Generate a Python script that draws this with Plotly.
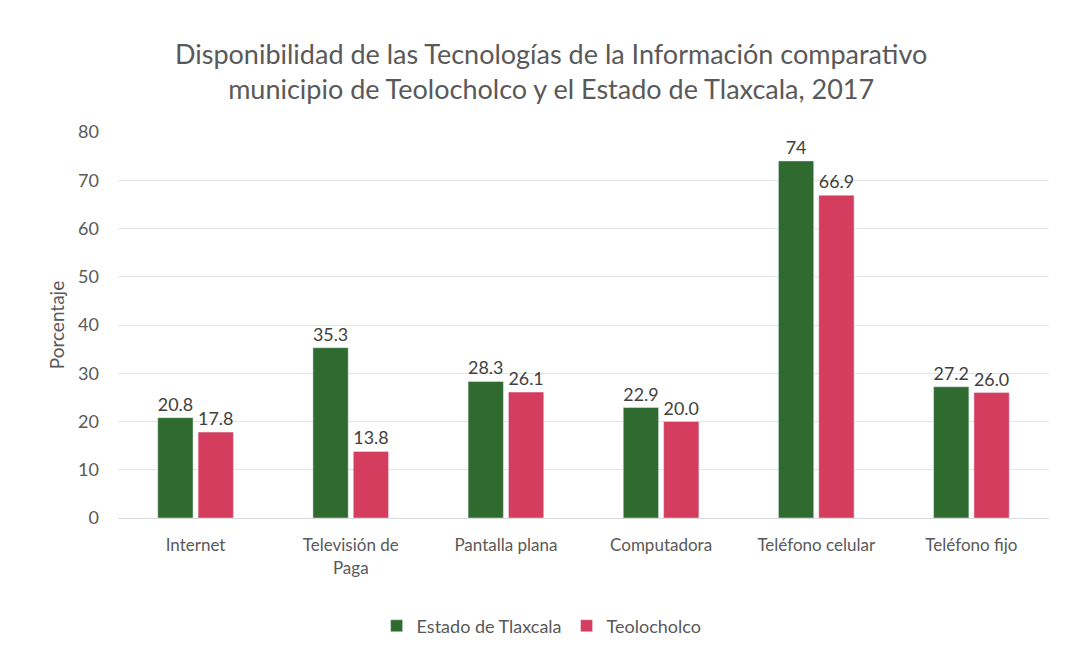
import plotly.graph_objects as go

# ── Data ──────────────────────────────────────────────────────────────────────
categories = ["Internet", "Televisión de<br>Paga", "Pantalla plana",
              "Computadora", "Teléfono celular", "Teléfono fijo"]
estado = [20.8, 35.3, 28.3, 22.9, 74, 27.2]
estado_labels = ["20.8", "35.3", "28.3", "22.9", "74", "27.2"]
teolocholco = [17.8, 13.8, 26.1, 20.0, 66.9, 26.0]
teolocholco_labels = ["17.8", "13.8", "26.1", "20.0", "66.9", "26.0"]

GREEN = "#2f6b2f"
RED = "#d43d5e"
TEXT = "#595959"
FONT = "Lato, 'Open Sans', sans-serif"

fig = go.Figure()
fig.add_trace(go.Bar(
    x=categories, y=estado, name="Estado de Tlaxcala",
    marker_color=GREEN, text=estado_labels, textposition="outside",
    textfont=dict(size=18, color="#404040"), cliponaxis=False,
))
fig.add_trace(go.Bar(
    x=categories, y=teolocholco, name="Teolocholco",
    marker_color=RED, text=teolocholco_labels, textposition="outside",
    textfont=dict(size=18, color="#404040"), cliponaxis=False,
))

fig.update_layout(
    width=1065, height=656,
    paper_bgcolor="white", plot_bgcolor="white",
    font=dict(family=FONT, color=TEXT, size=17),
    title=dict(
        text="Disponibilidad de las Tecnologías de la Información comparativo<br>"
             "municipio de Teolocholco y el Estado de Tlaxcala, 2017",
        x=0.51, xanchor="center", y=0.915, yanchor="middle",
        font=dict(size=27, color=TEXT, family=FONT),
    ),
    margin=dict(l=110, r=24, t=124, b=146),
    barmode="group", bargap=0.48, bargroupgap=0.125,
    showlegend=True,
    legend=dict(
        orientation="h", x=0.455, xanchor="center", y=-0.28, yanchor="middle",
        font=dict(size=18, color=TEXT), itemwidth=30, traceorder="normal",
    ),
)
fig.update_yaxes(
    range=[0, 80], dtick=10, showgrid=True, gridcolor="#e4e4e4", gridwidth=1,
    zeroline=False, showline=False, ticks="", tickfont=dict(size=18, color=TEXT),
    ticklabelstandoff=18,
    title=dict(text="Porcentaje", font=dict(size=19, color=TEXT), standoff=8),
)
fig.update_xaxes(
    showline=True, linecolor="#d9d9d9", ticks="",
    tickfont=dict(size=17, color=TEXT), ticklabelstandoff=12,
)

fig.write_html("out.html")
